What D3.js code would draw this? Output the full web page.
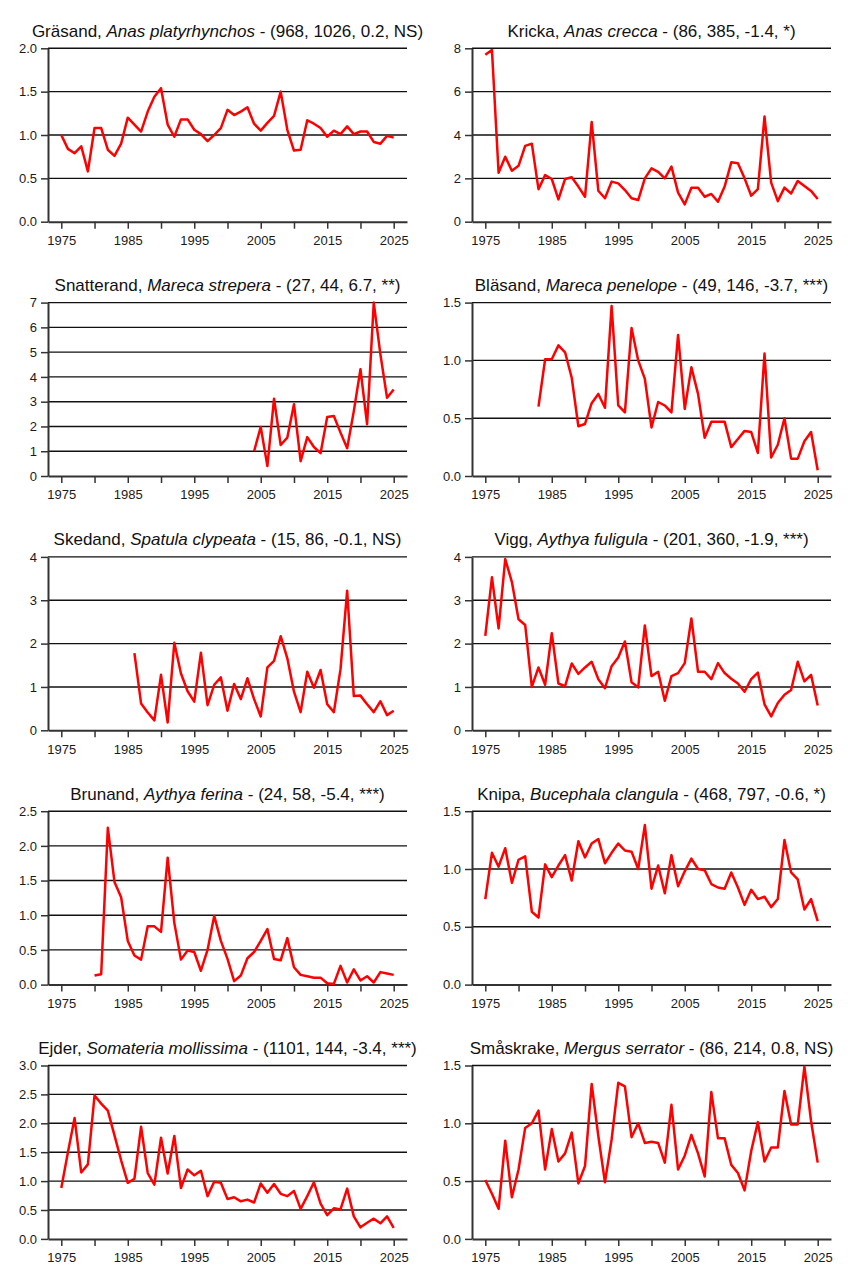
<!DOCTYPE html>
<html>
<head>
<meta charset="utf-8">
<script src="https://cdn.jsdelivr.net/npm/d3@7"></script>
<style>
  body { margin: 0; background: #fff; }
  svg { display: block; }
  text { font-family: "Liberation Sans", Arial, sans-serif; }
</style>
</head>
<body>
<svg id="chart" width="848" height="1272"></svg>
<script>
// species names and stats shown in the panel titles
var swedish = ["Gräsand", "Kricka", "Snatterand", "Bläsand", "Skedand", "Vigg", "Brunand", "Knipa", "Ejder", "Småskrake"];
var latin = ["Anas platyrhynchos", "Anas crecca", "Mareca strepera", "Mareca penelope", "Spatula clypeata",
             "Aythya fuligula", "Aythya ferina", "Bucephala clangula", "Somateria mollissima", "Mergus serrator"];
var stats = ["(968, 1026, 0.2, NS)", "(86, 385, -1.4, *)", "(27, 44, 6.7, **)", "(49, 146, -3.7, ***)", "(15, 86, -0.1, NS)",
             "(201, 360, -1.9, ***)", "(24, 58, -5.4, ***)", "(468, 797, -0.6, *)", "(1101, 144, -3.4, ***)", "(86, 214, 0.8, NS)"];

// y axis top and tick step for each panel
var yMax  = [2.0, 8, 7, 1.5, 4, 4, 2.5, 1.5, 3.0, 1.5];
var yStep = [0.5, 2, 1, 0.5, 1, 1, 0.5, 0.5, 0.5, 0.5];

// first year with data in each series (all run to 2025)
var startYear = [1975, 1975, 2004, 1983, 1986, 1975, 1980, 1975, 1975, 1975];

var xTicks = [1975, 1980, 1985, 1990, 1995, 2000, 2005, 2010, 2015, 2020, 2025];
var xLabels = [1975, 1985, 1995, 2005, 2015, 2025];

var grasand = [1.0, 0.84, 0.79, 0.87, 0.58, 1.08, 1.08, 0.83, 0.76, 0.9,
  1.2, 1.12, 1.04, 1.27, 1.44, 1.54, 1.12, 0.98, 1.18, 1.18,
  1.06, 1.01, 0.93, 1.0, 1.08, 1.29, 1.23, 1.27, 1.32, 1.13,
  1.05, 1.14, 1.22, 1.5, 1.06, 0.82, 0.83, 1.17, 1.13, 1.08,
  0.98, 1.05, 1.01, 1.1, 1.01, 1.04, 1.04, 0.92, 0.9, 0.99, 0.97];

var kricka = [7.7, 7.92, 2.26, 3.0, 2.35, 2.58, 3.5, 3.6, 1.5, 2.15,
  1.97, 1.03, 1.97, 2.05, 1.62, 1.15, 4.6, 1.43, 1.08, 1.85,
  1.77, 1.46, 1.08, 1.0, 2.0, 2.46, 2.3, 2.0, 2.54, 1.34,
  0.8, 1.57, 1.57, 1.15, 1.28, 0.92, 1.62, 2.74, 2.7, 2.0,
  1.2, 1.5, 4.85, 1.8, 0.95, 1.57, 1.3, 1.88, 1.65, 1.42, 1.05];

var snatterand = [1.0, 1.98, 0.4, 3.12, 1.25, 1.55, 2.9, 0.6, 1.57, 1.17,
  0.92, 2.38, 2.42, 1.75, 1.12, 2.62, 4.31, 2.09, 7.0, 4.91, 3.16, 3.49];

var blasand = [0.6, 1.01, 1.01, 1.13, 1.07, 0.85, 0.43, 0.45, 0.63, 0.71,
  0.59, 1.47, 0.61, 0.55, 1.28, 1.0, 0.84, 0.42, 0.64, 0.61,
  0.55, 1.22, 0.58, 0.94, 0.71, 0.33, 0.47, 0.47, 0.47, 0.25,
  0.32, 0.39, 0.38, 0.2, 1.06, 0.16, 0.27, 0.5, 0.15, 0.15,
  0.3, 0.38, 0.05];

var skedand = [1.78, 0.62, 0.41, 0.23, 1.28, 0.18, 2.02, 1.31, 0.9, 0.66,
  1.79, 0.58, 1.05, 1.22, 0.45, 1.07, 0.72, 1.2, 0.72, 0.32,
  1.45, 1.6, 2.17, 1.66, 0.89, 0.42, 1.35, 0.98, 1.39, 0.6,
  0.42, 1.41, 3.22, 0.79, 0.8, 0.6, 0.42, 0.67, 0.35, 0.45];

var vigg = [2.18, 3.53, 2.35, 3.95, 3.42, 2.56, 2.43, 1.0, 1.45, 1.05,
  2.24, 1.08, 1.02, 1.54, 1.3, 1.45, 1.58, 1.18, 0.97, 1.48,
  1.68, 2.05, 1.11, 0.99, 2.42, 1.25, 1.35, 0.68, 1.25, 1.32,
  1.55, 2.58, 1.35, 1.35, 1.18, 1.55, 1.32, 1.19, 1.08, 0.89,
  1.18, 1.33, 0.6, 0.32, 0.63, 0.82, 0.93, 1.58, 1.13, 1.28, 0.57];

var brunand = [0.13, 0.15, 2.26, 1.48, 1.26, 0.63, 0.42, 0.36, 0.84, 0.84,
  0.76, 1.83, 0.89, 0.36, 0.49, 0.47, 0.2, 0.5, 0.99, 0.63,
  0.37, 0.05, 0.13, 0.38, 0.47, 0.63, 0.8, 0.37, 0.35, 0.67,
  0.25, 0.14, 0.12, 0.1, 0.1, 0.02, 0.01, 0.27, 0.03, 0.22,
  0.06, 0.12, 0.03, 0.18, 0.16, 0.14];

var knipa = [0.74, 1.14, 1.02, 1.18, 0.88, 1.08, 1.11, 0.63, 0.58, 1.04,
  0.93, 1.03, 1.12, 0.9, 1.24, 1.1, 1.22, 1.26, 1.05, 1.14,
  1.22, 1.16, 1.15, 1.0, 1.38, 0.83, 1.03, 0.79, 1.12, 0.85,
  0.98, 1.09, 1.0, 0.99, 0.87, 0.84, 0.83, 0.97, 0.84, 0.69,
  0.82, 0.74, 0.76, 0.67, 0.74, 1.25, 0.97, 0.91, 0.65, 0.74, 0.55];

var ejder = [0.88, 1.5, 2.09, 1.15, 1.29, 2.48, 2.34, 2.22, 1.79, 1.36,
  0.97, 1.04, 1.94, 1.14, 0.94, 1.75, 1.13, 1.78, 0.88, 1.2,
  1.1, 1.18, 0.74, 0.99, 0.97, 0.69, 0.72, 0.65, 0.68, 0.63,
  0.96, 0.8, 0.95, 0.78, 0.74, 0.83, 0.52, 0.74, 0.98, 0.61,
  0.41, 0.53, 0.51, 0.87, 0.39, 0.2, 0.28, 0.35, 0.27, 0.39, 0.19];

var smaskrake = [0.51, 0.39, 0.26, 0.85, 0.36, 0.6, 0.96, 1.0, 1.11, 0.6,
  0.95, 0.67, 0.74, 0.92, 0.48, 0.63, 1.34, 0.89, 0.49, 0.86,
  1.35, 1.32, 0.88, 1.0, 0.83, 0.84, 0.83, 0.66, 1.16, 0.6,
  0.72, 0.9, 0.74, 0.54, 1.27, 0.87, 0.87, 0.64, 0.57, 0.42,
  0.76, 1.01, 0.67, 0.79, 0.79, 1.28, 0.99, 0.99, 1.49, 1.02, 0.66];

var series = [grasand, kricka, snatterand, blasand, skedand, vigg, brunand, knipa, ejder, smaskrake];

var svg = d3.select("#chart");
var colW = 424, rowH = 254.3;
var margin = {top: 48.3, right: 17, bottom: 32, left: 48};
var width = colW - margin.left - margin.right,
    height = 173.4;

var x = d3.scaleLinear().domain([1973, 2027]).range([0, width]);

series.forEach(function(vals, i) {
  var col = i % 2, row = Math.floor(i / 2);
  var g = svg.append("g")
      .attr("transform", "translate(" + (col * colW + margin.left) + "," + (row * rowH + margin.top) + ")");

  var y = d3.scaleLinear().domain([0, yMax[i]]).range([height, 0]);
  var yTicks = d3.range(0, yMax[i] + yStep[i] / 2, yStep[i]);
  var fmt = yStep[i] < 1 ? d3.format(".1f") : d3.format("d");

  // gridlines
  g.selectAll(".grid")
    .data(yTicks.filter(function(d) { return d > 0; }))
    .enter().append("line")
      .attr("x1", 0).attr("x2", width)
      .attr("y1", function(d) { return y(d); })
      .attr("y2", function(d) { return y(d); })
      .attr("stroke", "#111")
      .attr("stroke-width", 1.4);

  var xa = g.append("g")
      .attr("transform", "translate(0," + height + ")")
      .call(d3.axisBottom(x)
        .tickValues(xTicks)
        .tickSizeInner(7).tickSizeOuter(0).tickPadding(7)
        .tickFormat(function(d) { return xLabels.indexOf(d) >= 0 ? d : ""; }));

  var ya = g.append("g")
      .call(d3.axisLeft(y)
        .tickValues(yTicks)
        .tickSizeInner(7).tickSizeOuter(0).tickPadding(4)
        .tickFormat(fmt));

  [xa, ya].forEach(function(a) {
    a.select(".domain").attr("stroke", "#333").attr("stroke-width", 2);
    a.selectAll(".tick line").attr("stroke", "#333").attr("stroke-width", 1.5);
    a.selectAll(".tick text")
      .attr("fill", "#1a1a1a")
      .style("font-size", "13px")
      .style("font-family", '"Liberation Sans", Arial, sans-serif');
  });

  var line = d3.line()
      .x(function(d, j) { return x(startYear[i] + j); })
      .y(function(d) { return y(d); });

  g.append("path")
      .datum(vals)
      .attr("fill", "none")
      .attr("stroke", "#ff0000")
      .attr("stroke-width", 2.5)
      .attr("stroke-linejoin", "round")
      .attr("d", line);

  var title = g.append("text")
      .attr("x", width / 2)
      .attr("y", -11.6)
      .attr("text-anchor", "middle")
      .attr("fill", "#111")
      .style("font-size", "17px");
  title.append("tspan").text(swedish[i] + ", ");
  title.append("tspan").style("font-style", "italic").text(latin[i]);
  title.append("tspan").text(" - " + stats[i]);
});
</script>
</body>
</html>
